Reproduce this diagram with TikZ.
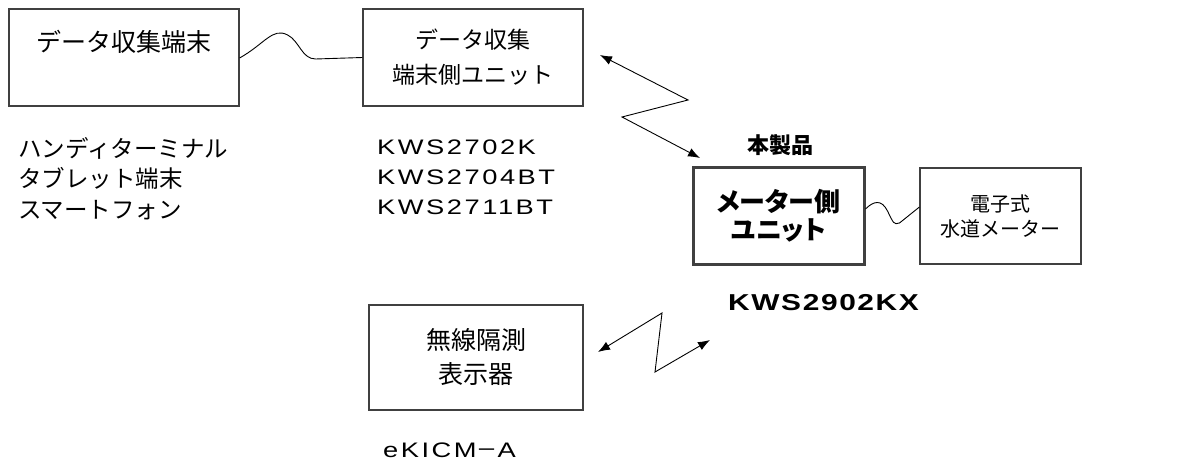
\documentclass[tikz,border=0pt]{standalone}
\usepackage{fontspec}
\setmainfont{Noto Sans CJK JP}
\newfontfamily\jpp[RawFeature=+palt]{Noto Sans CJK JP}
\newfontfamily\lat[FakeStretch=1.3,LetterSpace=12]{Liberation Sans}
\newfontfamily\latb[FakeStretch=1.3,LetterSpace=7]{Liberation Sans}
\usetikzlibrary{arrows.meta}
\begin{document}
\begin{tikzpicture}[x=1pt,y=-1pt,
  box/.style={draw=black!75,line width=1.2pt,inner sep=0pt,align=center},
  thickbox/.style={draw=black!75,line width=3pt,inner sep=0pt,align=center},
  txt/.style={inner sep=0pt,align=left,anchor=west},
  wire/.style={line width=0.9pt},
  radio/.style={line width=0.9pt,{Latex[length=12pt,width=9pt]}-{Latex[length=12pt,width=9pt]}}]
\useasboundingbox (0,0) rectangle (1204,465);
% boxes
\node[box,minimum width=230,minimum height=97,font=\fontsize{25}{34}\selectfont] (b1) at (124,57.5) {データ収集端末\\ \mbox{}};
\node[box,minimum width=220,minimum height=97,font=\fontsize{23}{35}\selectfont] (b2) at (473,57.5) {\raisebox{-3pt}{データ収集}\\\raisebox{-3pt}{端末側ユニット}};
\node[thickbox,minimum width=171,minimum height=96,font=\fontsize{26}{28}\selectfont\jpp\bfseries] (b3) at (778.5,216) {メーター側\\ユニット};
\node[box,minimum width=161,minimum height=96,font=\fontsize{20}{25}\selectfont] (b4) at (1000.5,216) {電子式\\水道メーター};
\node[box,minimum width=214,minimum height=105,font=\fontsize{25}{34}\selectfont] (b5) at (476,357.5) {\raisebox{3pt}{無線隔測}\\\raisebox{3pt}{表示器}};
% labels
\node[txt,font=\fontsize{23.5}{30.5}\selectfont,anchor=north west] (l1) at (18,137) {ハンディターミナル\\タブレット端末\\スマートフォン};
\node[txt,font=\fontsize{21}{30}\selectfont\lat,anchor=north west] (l2) at (377,140) {KWS2702K\\KWS2704BT\\KWS2711BT};
\node[font=\fontsize{22}{26}\selectfont\bfseries,inner sep=0pt] (l3) at (780,145) {本製品};
\node[txt,font=\fontsize{23}{26}\selectfont\bfseries\latb] (l4) at (728,303) {KWS2902KX};
\node[txt,font=\fontsize{21}{26}\selectfont] (l5) at (383,450) {{\lat eKICM}－{\lat A}};
% wires
\draw[wire] ([yshift=-0.5]b1.east) .. controls +(25,-14) and +(-15,-8) .. ++(48,-23)
  .. controls +(12,6) and +(-14,0) .. ++(28,24) -- (b2.west);
\draw[wire] ([yshift=7]b3.east) .. controls +(8,-8) and +(-6,-12) .. ++(22,2)
  .. controls +(6,12) and +(-6,2) .. ++(12,12) -- ([yshift=9]b4.west);
% radio links
\coordinate (t1) at (600,55);
\coordinate (t2) at (688,100);
\coordinate (t3) at (622,117);
\coordinate (t4) at (700,158);
\draw[radio] (t1) -- (t2) -- (t3) -- (t4);
\coordinate (u1) at (598,352);
\coordinate (u2) at (662,313);
\coordinate (u3) at (655,372);
\coordinate (u4) at (710,340);
\draw[radio] (u1) -- (u2) -- (u3) -- (u4);
\end{tikzpicture}
\end{document}
